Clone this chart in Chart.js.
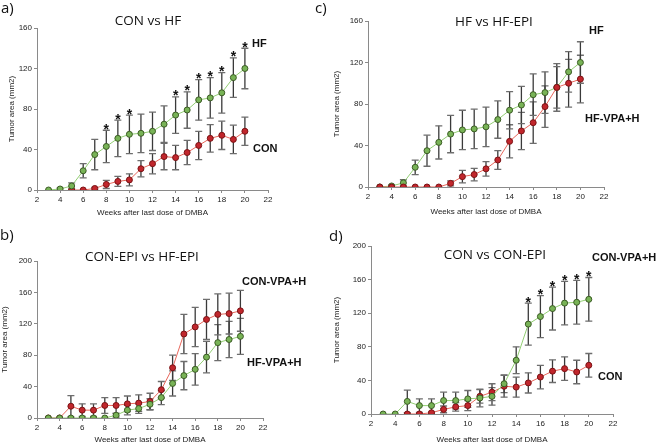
<!DOCTYPE html>
<html>
<head>
<meta charset="utf-8">
<script src="https://cdn.jsdelivr.net/npm/chart.js@4"></script>
<style>
  body { margin: 0; background: #fff; }
  #wrap { position: relative; width: 660px; height: 445px; overflow: hidden; }
  canvas { position: absolute; }
  .txt { position: absolute; white-space: nowrap; line-height: 1; color: #111; }
  .ttl { font-family: "Open Sans", sans-serif; font-size: 13.5px; transform: translateX(-50%); }
  .lbl { font-family: "Liberation Sans", Arial, sans-serif; font-weight: bold; font-size: 11px; }
  .pl { font-family: "Open Sans", sans-serif; font-size: 15px; }
</style>
</head>
<body>
<div id="wrap">
  <canvas id="chA" width="330" height="222" style="left:0;top:0"></canvas>
  <canvas id="chC" width="330" height="222" style="left:330px;top:0"></canvas>
  <canvas id="chB" width="330" height="223" style="left:0;top:222px"></canvas>
  <canvas id="chD" width="330" height="223" style="left:330px;top:222px"></canvas>

  <div class="txt pl" style="left:1px;top:0">a)</div>
  <div class="txt pl" style="left:315px;top:0">c)</div>
  <div class="txt pl" style="left:0;top:227px">b)</div>
  <div class="txt pl" style="left:329px;top:228px">d)</div>

  <div class="txt ttl" style="left:148px;top:14px">CON vs HF</div>
  <div class="txt ttl" style="left:494px;top:15px">HF vs HF-EPI</div>
  <div class="txt ttl" style="left:142px;top:250px">CON-EPI vs HF-EPI</div>
  <div class="txt ttl" style="left:495px;top:248px">CON vs CON-EPI</div>

  <div class="txt lbl" style="left:252px;top:37.5px">HF</div>
  <div class="txt lbl" style="left:253px;top:142.5px">CON</div>
  <div class="txt lbl" style="left:589px;top:24.5px">HF</div>
  <div class="txt lbl" style="left:585px;top:112.5px">HF-VPA+H</div>
  <div class="txt lbl" style="left:242px;top:275.5px">CON-VPA+H</div>
  <div class="txt lbl" style="left:247px;top:357px">HF-VPA+H</div>
  <div class="txt lbl" style="left:592px;top:252px">CON-VPA+H</div>
  <div class="txt lbl" style="left:598px;top:370.5px">CON</div>
</div>
<script>
// --- Data ---
const weeks = [3, 4, 5, 6, 7, 8, 9, 10, 11, 12, 13, 14, 15, 16, 17, 18, 19, 20];

const hf       = [0, 1, 4, 19, 35, 43, 51, 55, 56, 58, 65, 74, 79, 89, 91, 96, 111, 120];
const hfErr    = [0, 1, 3, 7, 15, 16, 18, 19, 19, 19, 18, 18, 18, 20, 20, 20, 19.5, 20];

const con      = [null, null, 0, 0, 1.5, 5.5, 8.5, 10, 21, 26, 33, 32, 37, 44, 51, 54, 50, 58];
const conErr   = [0, 0, 0, 0, 1, 4, 5, 6, 8, 10, 13, 12, 12, 14, 13.5, 14, 14, 14];

const hfEpi    = [0, 0, 0, 0, 0, 0, 3.5, 10, 12, 17.5, 26, 44, 54, 62, 77.5, 96, 100, 104];
const hfEpiErr = [0, 0, 0, 0, 0, 0, 2.5, 6, 6, 7, 9, 16, 18, 20, 20, 23, 23, 23];

const conEpi    = [0, 0, 15, 10, 10, 16, 16, 18, 19, 21, 36, 64, 107, 116, 125.5, 132, 133, 136.5];
const conEpiErr = [0, 0, 13.5, 8, 8, 10, 10, 10, 10.5, 10.5, 10.5, 16, 25, 25, 25.5, 26, 26, 26];

const starsA = [8, 9, 10, 14, 15, 16, 17, 18, 19, 20];
const starsD = [15, 16, 17, 18, 19, 20];

const xTicks = [2, 4, 6, 8, 10, 12, 14, 16, 18, 20, 22];

// --- Styles ---
const GREEN = { line: '#93cf74', fill: '#78b356', edge: '#3b5b24' };
const RED   = { line: '#e8675c', fill: '#c1262c', edge: '#7a1214' };
const AXIS  = '#8a8a8a';
const TICKFONT = { family: 'Liberation Sans, Arial, sans-serif', size: 8 };

function series(label, vals, errs, col, stars) {
    return {
        label: label,
        data: weeks.map((w, i) => ({ x: w, y: vals[i] })),
        errors: errs,
        stars: stars || [],
        borderColor: col.line,
        borderWidth: 1,
        pointRadius: 3,
        pointBorderWidth: 1,
        pointBackgroundColor: col.fill,
        pointBorderColor: col.edge,
        tension: 0,
        spanGaps: false
    };
}

// error bars + asterisks drawn from the scales
const errorBars = {
    id: 'errorBars',
    beforeDatasetsDraw(chart) {
        const ctx = chart.ctx;
        const ys = chart.scales.y;
        ctx.save();
        chart.data.datasets.forEach((ds, di) => {
            const meta = chart.getDatasetMeta(di);
            ds.data.forEach((p, i) => {
                const e = ds.errors[i];
                if (p.y == null || !e) return;
                const x = meta.data[i].x;
                const top = ys.getPixelForValue(p.y + e);
                const bot = ys.getPixelForValue(Math.max(p.y - e, 0));
                ctx.strokeStyle = '#3a3a3a';
                ctx.lineWidth = 1.3;
                ctx.beginPath();
                ctx.moveTo(x, top); ctx.lineTo(x, bot);
                ctx.stroke();
                ctx.strokeStyle = '#6e6e6e';
                ctx.beginPath();
                ctx.moveTo(x - 3.5, top); ctx.lineTo(x + 3.5, top);
                if (p.y - e > 0) { ctx.moveTo(x - 3.5, bot); ctx.lineTo(x + 3.5, bot); }
                ctx.stroke();
            });
        });
        ctx.restore();
    },
    afterDatasetsDraw(chart) {
        const ctx = chart.ctx;
        const ys = chart.scales.y;
        ctx.save();
        ctx.fillStyle = '#111';
        ctx.font = 'bold 14px "Liberation Sans", Arial, sans-serif';
        ctx.textAlign = 'center';
        ctx.textBaseline = 'alphabetic';
        chart.data.datasets.forEach((ds, di) => {
            const meta = chart.getDatasetMeta(di);
            ds.stars.forEach(w => {
                const i = weeks.indexOf(w);
                const x = meta.data[i].x;
                const top = ys.getPixelForValue(ds.data[i].y + ds.errors[i]);
                ctx.fillText('*', x, top + 3.5);
            });
        });
        ctx.restore();
    }
};

function makePanel(id, o) {
    const el = document.getElementById(id);
    return new Chart(el, {
        type: 'line',
        data: { datasets: o.datasets },
        options: {
            responsive: false,
            animation: false,
            devicePixelRatio: 1,
            layout: { padding: { left: 0, top: o.top, right: o.right, bottom: 0 } },
            plugins: { legend: { display: false }, tooltip: { enabled: false } },
            scales: {
                x: {
                    type: 'linear', min: 2, max: 22,
                    afterBuildTicks: s => { s.ticks = xTicks.map(v => ({ value: v })); },
                    afterFit: s => { s.height = o.xH; },
                    grid: { drawOnChartArea: false, drawTicks: true, tickLength: 3, color: AXIS },
                    border: { color: AXIS, width: 1 },
                    ticks: { font: TICKFONT, color: '#222', padding: 2, maxRotation: 0 },
                    title: { display: true, text: 'Weeks after last dose of DMBA', font: TICKFONT, color: '#222',
                             padding: { top: 0, bottom: o.xPad } }
                },
                y: {
                    min: 0, max: o.yMax,
                    afterFit: s => { s.width = o.axisX; },
                    grid: { drawOnChartArea: false, drawTicks: true, tickLength: 3, color: AXIS },
                    border: { color: AXIS, width: 1 },
                    ticks: { stepSize: 40, font: TICKFONT, color: '#222', padding: 2 },
                    title: { display: true, text: 'Tumor area (mm2)', font: TICKFONT, color: '#222',
                             padding: { top: o.yPad, bottom: 0 } }
                }
            }
        },
        plugins: [errorBars]
    });
}

makePanel('chA', {
    yMax: 160, axisX: 37, top: 28, right: 62, xH: 32, xPad: 4, yPad: 6.5,
    datasets: [series('HF', hf, hfErr, GREEN, starsA), series('CON', con, conErr, RED)]
});
makePanel('chC', {
    yMax: 160, axisX: 38, top: 21, right: 56, xH: 35, xPad: 5, yPad: 2,
    datasets: [series('HF-VPA+H', hfEpi, hfEpiErr, RED), series('HF', hf, hfErr, GREEN)]
});
makePanel('chB', {
    yMax: 200, axisX: 37, top: 39, right: 67, xH: 27, xPad: 0, yPad: 0,
    datasets: [series('HF-VPA+H', hfEpi, hfEpiErr, GREEN), series('CON-VPA+H', conEpi, conEpiErr, RED)]
});
makePanel('chD', {
    yMax: 200, axisX: 41, top: 24, right: 47, xH: 31, xPad: 0, yPad: 1.5,
    datasets: [series('CON-VPA+H', conEpi, conEpiErr, GREEN, starsD), series('CON', con, conErr, RED)]
});
</script>
</body>
</html>
